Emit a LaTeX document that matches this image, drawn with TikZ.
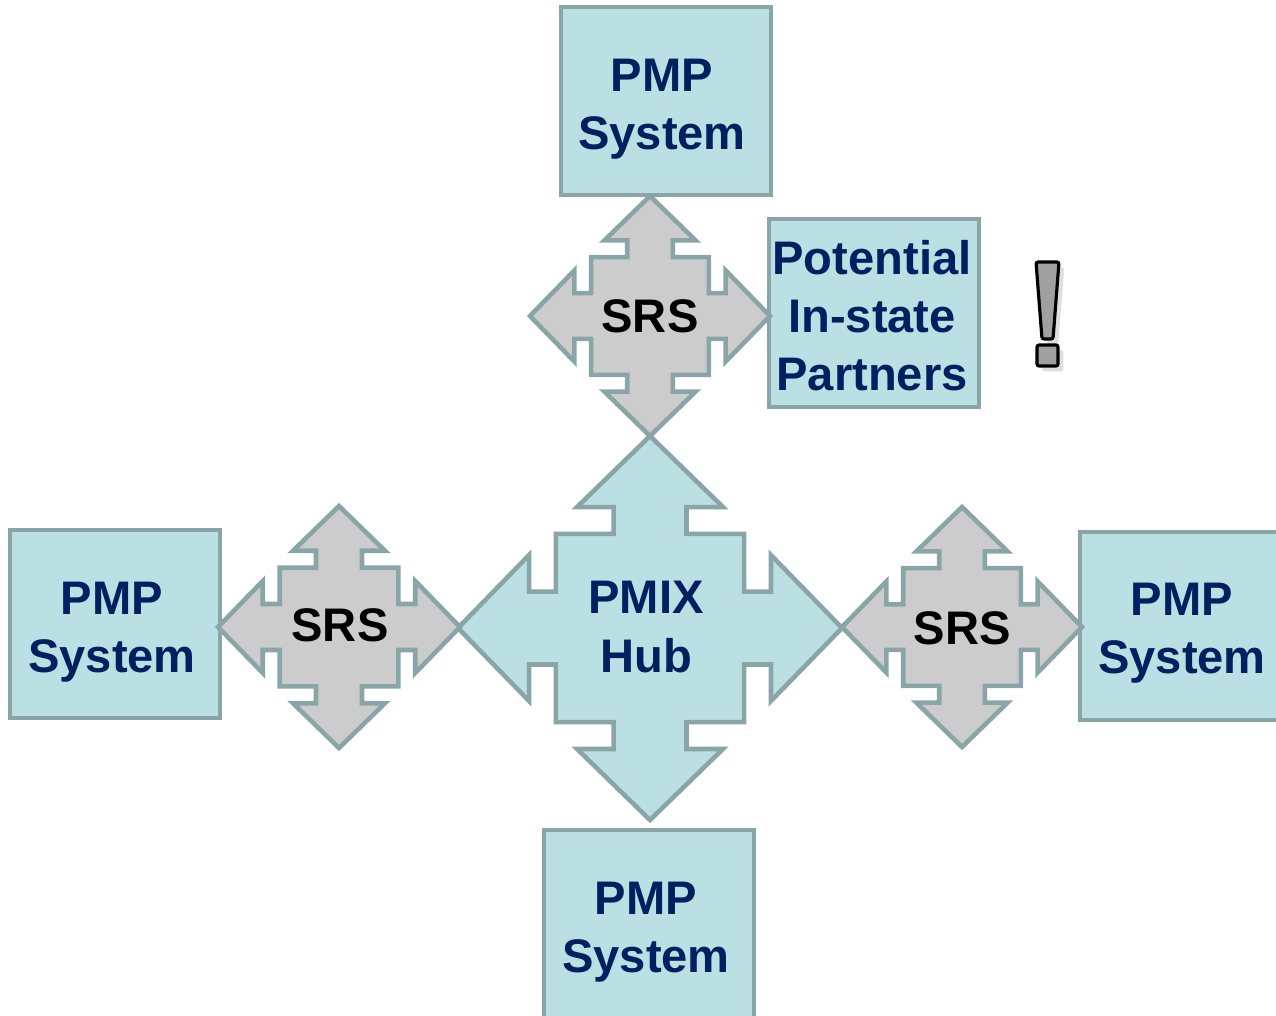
\documentclass[tikz,border=0pt]{standalone}
\usepackage{fontspec}
\setmainfont{Liberation Sans}
\usetikzlibrary{shadows}
\definecolor{boxfill}{RGB}{187,224,227}
\definecolor{boxline}{RGB}{137,165,168}
\definecolor{srsfill}{RGB}{204,204,204}
\definecolor{navy}{RGB}{0,32,96}
\definecolor{markgray}{RGB}{160,160,160}
\tikzset{
	quad/.pic={
		\draw[pic actions] (0,-1) -- (.38,-.63) -- (.19,-.63) -- (.19,-.49) -- (.49,-.49)
			-- (.49,-.19) -- (.63,-.19) -- (.63,-.38) -- (1,0) -- (.63,.38) -- (.63,.19)
			-- (.49,.19) -- (.49,.49) -- (.19,.49) -- (.19,.63) -- (.38,.63) -- (0,1)
			-- (-.38,.63) -- (-.19,.63) -- (-.19,.49) -- (-.49,.49) -- (-.49,.19)
			-- (-.63,.19) -- (-.63,.38) -- (-1,0) -- (-.63,-.38) -- (-.63,-.19)
			-- (-.49,-.19) -- (-.49,-.49) -- (-.19,-.49) -- (-.19,-.63) -- (-.38,-.63) -- cycle;
	}
}

\begin{document}
\begin{tikzpicture}[
		x=0.01cm, y=-0.01cm,
		pmp/.style={rectangle,draw=boxline,fill=boxfill,line width=1.3pt,minimum width=2.1cm,minimum height=1.88cm,inner sep=0pt},
		hub/.style={draw=boxline,fill=boxfill,line width=1.3pt},
		srs/.style={draw=boxline,fill=srsfill,line width=1.3pt},
		lbl/.style={align=center,inner sep=0pt,font=\fontsize{13.4}{16.5}\selectfont\bfseries},
		boxtext/.style={lbl,text=navy},
		bangmark/.style={draw=black,fill=markgray,line width=0.9pt,rounded corners=0.6pt,drop shadow={opacity=0.25,shadow xshift=1.5pt,shadow yshift=-1.5pt}}
	]
		\clip (0,0) rectangle (1276,1015);
		\node[pmp] (top) at (666,101) {};
		\node[pmp] (partners) at (874,313) {};
		\node[pmp] (left) at (115,624) {};
		\node[pmp] (right) at (1185,626) {};
		\node[pmp] (bottom) at (649,924) {};
		\node[boxtext] (toptext) at (662,109) {PMP\\System};
		\node[boxtext] (partnerstext) at (872,316) {Potential\\In-state\\Partners};
		\node[boxtext] (lefttext) at (112,632) {PMP\\System};
		\node[boxtext] (righttext) at (1182,633) {PMP\\System};
		\node[boxtext] (bottomtext) at (646,932) {PMP\\System};
		\pic[hub, scale=192] at (650,628) {quad};
		\pic[srs, scale=120] at (650,316) {quad};
		\pic[srs, scale=121] at (339,627) {quad};
		\pic[srs, scale=120] at (962,627) {quad};
		\node[boxtext] (hublbl) at (646,627) {PMIX\\Hub};
		\node[lbl] (srstop) at (650,316) {SRS};
		\node[lbl] (srsleft) at (340,625) {SRS};
		\node[lbl] (srsright) at (962,628) {SRS};
		\draw[bangmark] (1036,262) -- (1059,262) -- (1053,339) -- (1042,339) -- cycle;
		\draw[bangmark] (1037,345) rectangle (1058,366);
	\end{tikzpicture}
\end{document}
